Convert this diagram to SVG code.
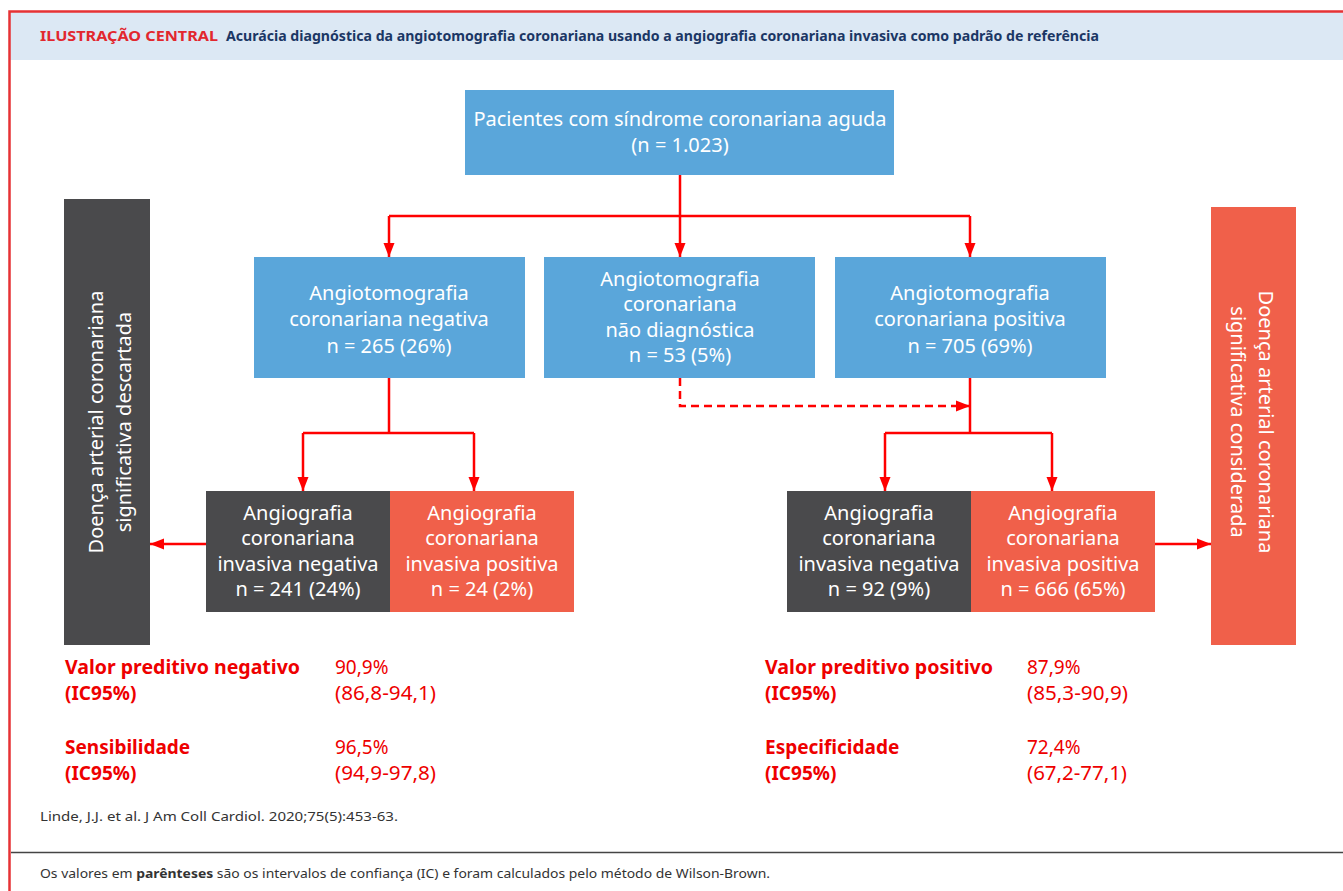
<svg xmlns="http://www.w3.org/2000/svg" width="1343" height="891" viewBox="0 0 1343 891">
<defs>
<marker id="ah" markerUnits="userSpaceOnUse" markerWidth="14" markerHeight="14" viewBox="0 0 14 14" refX="14" refY="7" orient="auto">
<path d="M0,1.5 L14,7 L0,12.5 Z" fill="#ff0000"/>
</marker>
<style>
.bl{fill:#5aa6da}
.dk{fill:#4a4a4c}
.rd{fill:#f0604a}
.nt{font-family:"Noto Sans","Open Sans",sans-serif;font-size:20px;fill:#ffffff;text-anchor:middle}
.st{font-family:"Noto Sans","Open Sans",sans-serif;font-size:19px;fill:#ee0000}
.sb{font-weight:bold}
.cn{fill:none;stroke:#ff0000;stroke-width:2.5}
.ft{font-family:"Noto Sans","Open Sans",sans-serif;font-size:13px;fill:#333333}
</style>
</defs>
<rect width="1343" height="891" fill="#ffffff"/>
<rect x="10" y="12" width="1333" height="48" fill="#dce8f4"/>
<path d="M9.5,891 V11.5 H1343" fill="none" stroke="#e63234" stroke-width="2.5"/>
<line x1="11" y1="852.5" x2="1343" y2="852.5" stroke="#444444" stroke-width="1.5"/>
<text x="40" y="41" font-family="'Noto Sans','Open Sans',sans-serif" font-size="13.5" font-weight="bold" fill="#e2272e" textLength="178" lengthAdjust="spacingAndGlyphs">ILUSTRAÇÃO CENTRAL</text>
<text x="226" y="41" font-family="'Noto Sans','Open Sans',sans-serif" font-size="15" font-weight="bold" fill="#1b3765" textLength="873" lengthAdjust="spacingAndGlyphs">Acurácia diagnóstica da angiotomografia coronariana usando a angiografia coronariana invasiva como padrão de referência</text>

<g id="connectors">
<path class="cn" d="M680,175 V216 M389,216 H970"/>
<path class="cn" d="M389,216 V257" marker-end="url(#ah)"/>
<path class="cn" d="M680,216 V257" marker-end="url(#ah)"/>
<path class="cn" d="M970,216 V257" marker-end="url(#ah)"/>
<path class="cn" d="M389,378 V433 M303,433 H474"/>
<path class="cn" d="M303,433 V491" marker-end="url(#ah)"/>
<path class="cn" d="M474,433 V491" marker-end="url(#ah)"/>
<path class="cn" d="M970,378 V433 M885,433 H1052"/>
<path class="cn" d="M885,433 V491" marker-end="url(#ah)"/>
<path class="cn" d="M1052,433 V491" marker-end="url(#ah)"/>
<path class="cn" d="M680,378 V406 H970" stroke-dasharray="8,5" marker-end="url(#ah)"/>
<path class="cn" d="M206,544 H150" marker-end="url(#ah)"/>
<path class="cn" d="M1155,544 H1211" marker-end="url(#ah)"/>
</g>

<g id="n-top">
<rect class="bl" x="465" y="90" width="429" height="85"/>
<text class="nt" x="680" y="126">Pacientes com síndrome coronariana aguda</text>
<text class="nt" x="680" y="152">(n = 1.023)</text>
</g>
<g id="n-neg">
<rect class="bl" x="254" y="257" width="271" height="121"/>
<text class="nt" x="389" y="300">Angiotomografia</text>
<text class="nt" x="389" y="326">coronariana negativa</text>
<text class="nt" x="389" y="353">n = 265 (26%)</text>
</g>
<g id="n-nd">
<rect class="bl" x="544" y="257" width="271" height="121"/>
<text class="nt" x="680" y="286">Angiotomografia</text>
<text class="nt" x="680" y="311">coronariana</text>
<text class="nt" x="680" y="337">não diagnóstica</text>
<text class="nt" x="680" y="362">n = 53 (5%)</text>
</g>
<g id="n-pos">
<rect class="bl" x="835" y="257" width="271" height="121"/>
<text class="nt" x="970" y="300">Angiotomografia</text>
<text class="nt" x="970" y="326">coronariana positiva</text>
<text class="nt" x="970" y="353">n = 705 (69%)</text>
</g>
<g id="n-ln">
<rect class="dk" x="206" y="491" width="184" height="121"/>
<text class="nt" x="298" y="520">Angiografia</text>
<text class="nt" x="298" y="545">coronariana</text>
<text class="nt" x="298" y="571">invasiva negativa</text>
<text class="nt" x="298" y="596">n = 241 (24%)</text>
</g>
<g id="n-lp">
<rect class="rd" x="390" y="491" width="184" height="121"/>
<text class="nt" x="482" y="520">Angiografia</text>
<text class="nt" x="482" y="545">coronariana</text>
<text class="nt" x="482" y="571">invasiva positiva</text>
<text class="nt" x="482" y="596">n = 24 (2%)</text>
</g>
<g id="n-rn">
<rect class="dk" x="787" y="491" width="184" height="121"/>
<text class="nt" x="879" y="520">Angiografia</text>
<text class="nt" x="879" y="545">coronariana</text>
<text class="nt" x="879" y="571">invasiva negativa</text>
<text class="nt" x="879" y="596">n = 92 (9%)</text>
</g>
<g id="n-rp">
<rect class="rd" x="971" y="491" width="184" height="121"/>
<text class="nt" x="1063" y="520">Angiografia</text>
<text class="nt" x="1063" y="545">coronariana</text>
<text class="nt" x="1063" y="571">invasiva positiva</text>
<text class="nt" x="1063" y="596">n = 666 (65%)</text>
</g>
<g id="side-left">
<rect class="dk" x="64" y="199" width="86" height="446"/>
<text class="nt" transform="translate(103,422) rotate(-90)">Doença arterial coronariana</text>
<text class="nt" transform="translate(131,422) rotate(-90)">significativa descartada</text>
</g>
<g id="side-right">
<rect class="rd" x="1211" y="207" width="85" height="438"/>
<text class="nt" transform="translate(1259,422) rotate(90)">Doença arterial coronariana</text>
<text class="nt" transform="translate(1231,422) rotate(90)">significativa considerada</text>
</g>

<g id="stats-left">
<text class="st sb" x="65" y="674" textLength="235" lengthAdjust="spacingAndGlyphs">Valor preditivo negativo</text>
<text class="st sb" x="65" y="700">(IC95%)</text>
<text class="st" x="335" y="674">90,9%</text>
<text class="st" x="335" y="700" textLength="101" lengthAdjust="spacingAndGlyphs">(86,8-94,1)</text>
<text class="st sb" x="65" y="754">Sensibilidade</text>
<text class="st sb" x="65" y="780">(IC95%)</text>
<text class="st" x="335" y="754">96,5%</text>
<text class="st" x="335" y="780" textLength="101" lengthAdjust="spacingAndGlyphs">(94,9-97,8)</text>
</g>
<g id="stats-right">
<text class="st sb" x="765" y="674" textLength="228" lengthAdjust="spacingAndGlyphs">Valor preditivo positivo</text>
<text class="st sb" x="765" y="700">(IC95%)</text>
<text class="st" x="1027" y="674">87,9%</text>
<text class="st" x="1027" y="700" textLength="101" lengthAdjust="spacingAndGlyphs">(85,3-90,9)</text>
<text class="st sb" x="765" y="754">Especificidade</text>
<text class="st sb" x="765" y="780">(IC95%)</text>
<text class="st" x="1027" y="754">72,4%</text>
<text class="st" x="1027" y="780" textLength="100" lengthAdjust="spacingAndGlyphs">(67,2-77,1)</text>
</g>

<text class="ft" x="40" y="821" textLength="358" lengthAdjust="spacingAndGlyphs">Linde, J.J. et al. J Am Coll Cardiol. 2020;75(5):453-63.</text>
<text class="ft" x="40" y="878" textLength="730" lengthAdjust="spacingAndGlyphs">Os valores em <tspan font-weight="bold">parênteses</tspan> são os intervalos de confiança (IC) e foram calculados pelo método de Wilson-Brown.</text>
</svg>
